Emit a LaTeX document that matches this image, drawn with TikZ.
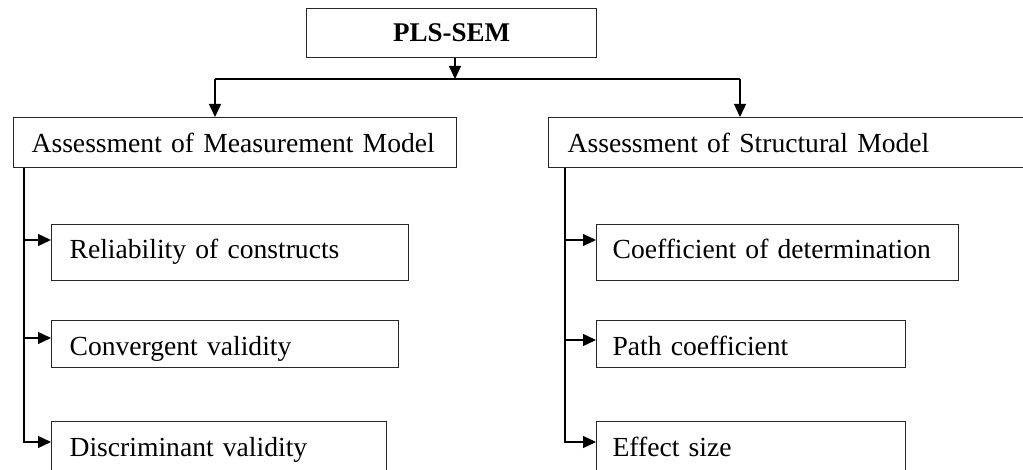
\documentclass[tikz,border=0pt]{standalone}
\usepackage{fontspec}
\setmainfont{Liberation Serif}
\usetikzlibrary{arrows.meta,calc}
\begin{document}
\begin{tikzpicture}[x=1pt,y=-1pt,
  box/.style={draw=black!85, line width=1.2pt, inner ysep=0pt, align=left, anchor=north west,
    font=\fontsize{27.6}{33}\selectfont},
  link/.style={draw=black, line width=1.3pt},
  arr/.style={link, -{Triangle[length=13pt,width=12pt]}}]
\useasboundingbox (0,0) rectangle (1023,470);
% top
\node[box, inner xsep=0pt, text width=290pt, align=center, text height=33pt, text depth=16pt,
  font=\fontsize{27}{33}\selectfont\bfseries] (pls) at (306,8) {PLS-SEM};
\node[box, inner xsep=18pt, text width=407pt, text height=35pt, text depth=15pt] (mm) at (13,117) {\mbox{Assessment of Measurement Model}};
\node[box, inner xsep=19pt, text width=480pt, text height=35pt, text depth=15pt] (sm) at (548,117) {\mbox{Assessment of Structural Model}};
% left column
\node[box, inner xsep=18pt, text width=321pt, text height=34pt, text depth=22pt] (r1) at (51,224) {\mbox{Reliability of constructs}};
\node[box, inner xsep=18pt, text width=311pt, text height=35pt, text depth=12pt] (r2) at (51,320) {\mbox{Convergent validity}};
\node[box, inner xsep=18pt, text width=299pt, text height=35pt, text depth=25pt] (r3) at (51,421) {\mbox{Discriminant validity}};
% right column
\node[box, inner xsep=16pt, text width=330pt, text height=34pt, text depth=22pt] (s1) at (596,224) {\mbox{Coefficient of determination}};
\node[box, inner xsep=16pt, text width=277pt, text height=35pt, text depth=12pt] (s2) at (596,320) {\mbox{Path coefficient}};
\node[box, inner xsep=16pt, text width=277pt, text height=35pt, text depth=25pt] (s3) at (596,421) {\mbox{Effect size}};
% connectors
\coordinate (hub) at (455,79);
\coordinate (hl) at (215,79);
\coordinate (hr) at (740,79);
\draw[arr] (pls.south -| hub) -- (hub);
\draw[link] (hl) -- (hr);
\draw[arr] (hl) -- (mm.north -| hl);
\draw[arr] (hr) -- (sm.north -| hr);
\coordinate (tl) at (24,0);
\coordinate (tr) at (565,0);
\coordinate (a1) at ($(r1.north west)+(0,16)$);
\coordinate (a2) at ($(r2.north west)+(0,18)$);
\coordinate (a3) at ($(r3.north west)+(0,21)$);
\coordinate (b1) at ($(s1.north west)+(0,16)$);
\coordinate (b2) at ($(s2.north west)+(0,20)$);
\coordinate (b3) at ($(s3.north west)+(0,21)$);
\draw[arr] (mm.south -| tl) |- (a3);
\draw[arr] (a1 -| tl) -- (a1);
\draw[arr] (a2 -| tl) -- (a2);
\draw[arr] (sm.south -| tr) |- (b3);
\draw[arr] (b1 -| tr) -- (b1);
\draw[arr] (b2 -| tr) -- (b2);
\end{tikzpicture}
\end{document}
